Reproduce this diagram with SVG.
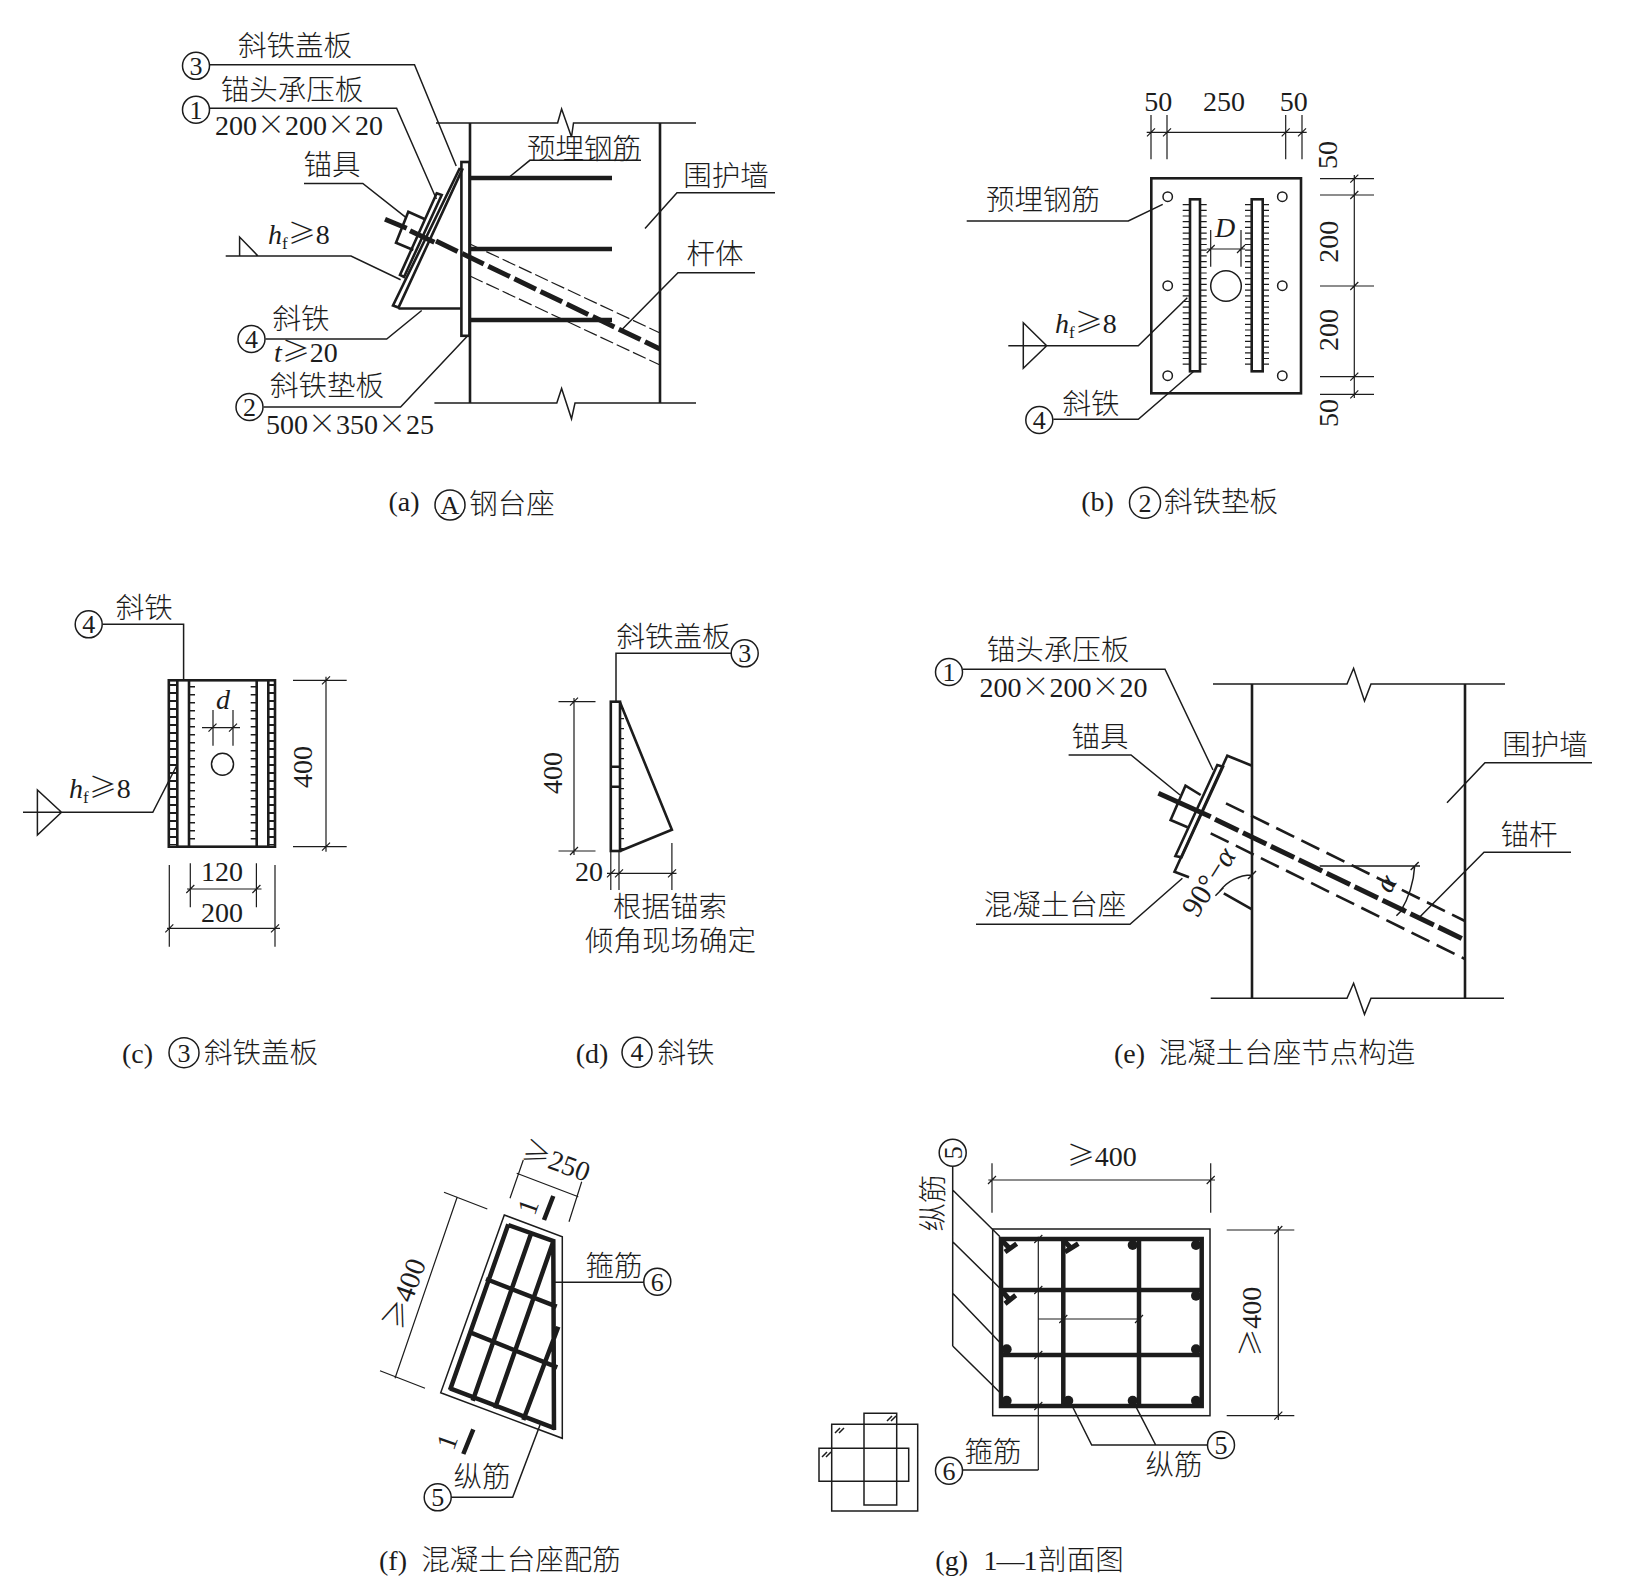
<svg xmlns="http://www.w3.org/2000/svg" width="1625" height="1595" viewBox="0 0 1625 1595">
<style>
text{fill:#1c1c1c}
.n{font-family:"Liberation Serif","Noto Sans CJK SC",serif;font-size:28px}
.z{font-family:"Noto Sans CJK SC","Liberation Sans",sans-serif;font-size:28.5px;font-weight:300;text-anchor:middle}
.i{font-style:italic}
.x{font-family:"Noto Sans CJK SC",sans-serif;font-weight:300}
.mid{text-anchor:middle}
.l{fill:none;stroke:#1c1c1c;stroke-width:1.5}
.f{fill:none;stroke:#1c1c1c;stroke-width:1.2}
.m{fill:none;stroke:#1c1c1c;stroke-width:2.6}
.w{fill:#fff;stroke:#1c1c1c;stroke-width:2.6}
.h{fill:none;stroke:#1c1c1c;stroke-width:4.5}
.b{fill:none;stroke:#1c1c1c;stroke-width:5}
.c{fill:#fff;stroke:#1c1c1c;stroke-width:1.5}
.d{fill:#1c1c1c}
.q{font-family:"Liberation Serif",serif;font-size:26px;text-anchor:middle}
</style>
<rect width="1625" height="1595" fill="#fff"/>

<g id="panel-a">
<path class="l" d="M436 123H557.6L561.6 109L571.5 137L573.5 123H696M434.4 403H556.8L561.6 388.4L571.5 418.8L575 403H696"/>
<path class="m" d="M470 123V403M660 123V403"/>
<rect class="w" x="461.4" y="162" width="8" height="173.8"/>
<path class="h" d="M470 178H612M470 249H612M470 320H612"/>
<path class="w" d="M459.4 169L462.2 169.6L398.5 307.5L393 305.5Z"/>
<path class="m" d="M398.5 308.5H460.6"/>
<path class="m" d="M436.7 193.3L441.7 195L404 277L400 275Z"/>
<path class="m" d="M425 219.3L408.3 211.7L396 242.7L413.3 250"/>
<path class="b" d="M385 219.3L406.7 228.3M410 230.7L434.4 242.3"/>
<path class="b" stroke-dasharray="24 5" d="M436 241L660 349"/>
<path class="f" stroke-dasharray="14 4" d="M470 244L660 333M470 276L660 365"/>
<path class="l" d="M210 64.7H414.5L456.2 166M210 108.3H396.6L436.4 199M304 183.5H362.8L405.8 217.4M225.7 256H351L400.6 279.7M239.6 256V237L258 256M265.5 339H386.7L421.7 310.5M263.5 407H400.6L467 336.5M510 176.5L529.8 160.3H641M645 228.5L677 192.8H775M622 329.5L678 272.8H755"/>
<circle class="c" cx="196" cy="65.8" r="13.5"/><text class="q" x="196" y="74.5">3</text>
<circle class="c" cx="196" cy="109.7" r="13.5"/><text class="q" x="196" y="118.5">1</text>
<circle class="c" cx="251.5" cy="339" r="13.5"/><text class="q" x="251.5" y="347.5">4</text>
<circle class="c" cx="249.5" cy="407" r="13.5"/><text class="q" x="249.5" y="415.5">2</text>
<text class="z" x="295" y="56">斜铁盖板</text>
<text class="z" x="292" y="100">锚头承压板</text>
<text class="n mid" x="299" y="135">200<tspan class="x">×</tspan>200<tspan class="x">×</tspan>20</text>
<text class="z" x="332" y="175">锚具</text>
<text class="n" x="268" y="244"><tspan class="i">h</tspan><tspan font-size="17" dy="5">f</tspan><tspan class="x" dy="-5">≥</tspan>8</text>
<text class="z" x="301" y="329">斜铁</text>
<text class="n" x="274" y="362"><tspan class="i">t</tspan><tspan class="x">≥</tspan>20</text>
<text class="z" x="327" y="396">斜铁垫板</text>
<text class="n mid" x="350" y="434">500<tspan class="x">×</tspan>350<tspan class="x">×</tspan>25</text>
<text class="z" x="584" y="159">预埋钢筋</text>
<text class="z" x="726" y="186">围护墙</text>
<text class="z" x="715" y="264">杆体</text>
<text class="n mid" x="404" y="511">(a)</text>
<circle class="c" cx="450" cy="505" r="15"/><text class="q" x="450" y="514">A</text>
<text class="z" x="512" y="514">钢台座</text>
</g>

<g id="panel-b">
<rect class="m" x="1151.3" y="178.3" width="149.7" height="215"/>
<g class="l">
<circle cx="1167.7" cy="196.7" r="4.7"/><circle cx="1282.3" cy="196.7" r="4.7"/><circle cx="1167.7" cy="285.7" r="4.7"/><circle cx="1282.3" cy="285.7" r="4.7"/><circle cx="1167.7" cy="375.7" r="4.7"/><circle cx="1282.3" cy="375.7" r="4.7"/>
<circle cx="1226" cy="286" r="15.3"/>
</g>
<path fill="none" stroke="#1c1c1c" stroke-width="24" stroke-dasharray="1.2 4.5" d="M1194.7 204V367M1257 204V367"/>
<rect class="w" x="1190" y="199.3" width="10" height="172"/>
<rect class="w" x="1251.7" y="199.3" width="11" height="172"/>
<path class="f" d="M1151 115V159.3M1167 115V159.3M1285.7 115V159.3M1302 115V159.3M1146.7 132.3H1306.7M1147 136.3l8 -8M1163 136.3l8 -8M1281.7 136.3l8 -8M1298 136.3l8 -8"/>
<path class="f" d="M1320 178.7H1374M1320 195H1374M1320 286H1374M1320 376.7H1374M1320 394.3H1374M1354.3 175V398M1350.3 182.7l8 -8M1350.3 199l8 -8M1350.3 290l8 -8M1350.3 380.7l8 -8M1350.3 398.3l8 -8"/>
<path class="f" d="M1210.7 230V266.7M1241 230V266.7M1206.7 249H1245M1206.7 253l8 -8M1237 253l8 -8"/>
<path class="l" d="M966.7 221H1128.3L1162.7 204.3M1008.3 345.7H1138.3L1187.3 297.7M1023.3 322.7V368.3L1046.7 345.7ZM1053.3 419.3H1138.3L1193.3 371.7"/>
<circle class="c" cx="1039.3" cy="420" r="13.5"/><text class="q" x="1039.3" y="428.5">4</text>
<text class="n mid" x="1158.3" y="111">50</text>
<text class="n mid" x="1224" y="111">250</text>
<text class="n mid" x="1293.7" y="111">50</text>
<text class="n mid" transform="translate(1337 155) rotate(-90)">50</text>
<text class="n mid" transform="translate(1338 241.7) rotate(-90)">200</text>
<text class="n mid" transform="translate(1338 330) rotate(-90)">200</text>
<text class="n mid" transform="translate(1338 413) rotate(-90)">50</text>
<text class="z" x="1043" y="210">预埋钢筋</text>
<text class="n" x="1055" y="332.7"><tspan class="i">h</tspan><tspan font-size="17" dy="5">f</tspan><tspan class="x" dy="-5">≥</tspan>8</text>
<text class="z" x="1091" y="414">斜铁</text>
<text class="n mid i" x="1225" y="237">D</text>
<text class="n mid" x="1097.5" y="511">(b)</text>
<circle class="c" cx="1145" cy="502.7" r="15.5"/><text class="q" x="1145" y="511.5">2</text>
<text class="z" x="1221" y="512">斜铁垫板</text>
</g>

<g id="panel-c">
<rect class="m" x="168.8" y="680.3" width="106.2" height="166.4"/>
<path class="m" d="M177.3 680.3V846.7M189 680.3V846.7M256.7 680.3V846.7M268.3 680.3V846.7"/>
<path fill="none" stroke="#1c1c1c" stroke-width="8" stroke-dasharray="2 6" d="M173 684V845M271.7 684V845"/>
<path fill="none" stroke="#1c1c1c" stroke-width="6" stroke-dasharray="1.6 6.4" d="M192 686V846M253.7 686V846"/>
<circle class="l" cx="222.5" cy="764.3" r="11"/>
<path class="f" d="M213 710V745.7M233 710V745.7M202 727.7H240M208.5 731.7l8 -8M229 731.7l8 -8"/>
<path class="f" d="M293 680.3H346.7M293 846.7H346.7M326 676.7V851.7M322 684.3l8 -8M322 850.7l8 -8"/>
<path class="f" d="M190.3 863.3V907.3M256.4 863.3V907.3M187 889H261.5M186.3 893l8 -8M252.4 893l8 -8M169.3 865V946.7M275 865V946.7M167 928.3H280M165.3 932.3l8 -8M271 932.3l8 -8"/>
<path class="l" d="M102.6 624.3H183.6V680M23 812.3H152.8L177 765M37.4 790V835L61.5 812.3Z"/>
<circle class="c" cx="88.7" cy="624.3" r="13.5"/><text class="q" x="88.7" y="633">4</text>
<text class="z" x="144.3" y="618">斜铁</text>
<text class="n" x="69" y="798"><tspan class="i">h</tspan><tspan font-size="17" dy="5">f</tspan><tspan class="x" dy="-5">≥</tspan>8</text>
<text class="n mid i" x="223" y="709">d</text>
<text class="n mid" transform="translate(312 767) rotate(-90)">400</text>
<text class="n mid" x="222" y="881">120</text>
<text class="n mid" x="222" y="921.7">200</text>
<text class="n mid" x="137.5" y="1063">(c)</text>
<circle class="c" cx="184" cy="1052.7" r="15"/><text class="q" x="184" y="1061.5">3</text>
<text class="z" x="261" y="1063">斜铁盖板</text>
</g>

<g id="panel-d" transform="translate(-3 0)">
<rect class="m" x="613.8" y="701.7" width="9.2" height="149.3"/>
<path class="m" d="M623 702.3L674.9 829.7L623 851M613.8 766.7H623M613.8 786.7H623"/>
<path fill="none" stroke="#1c1c1c" stroke-width="4" stroke-dasharray="1.2 8.8" d="M625 708V851"/>
<path class="f" d="M561.5 701.7H598.5M561.5 851H598.5M577 698V855M573 705.7l8 -8M573 855l8 -8"/>
<path class="f" d="M613.8 851.7V890M622 851.7V890M674.9 843V890M610 873.3H679.5M610 877.3l8 -8M618 877.3l8 -8M671 877.3l8 -8"/>
<path class="l" d="M734.4 653.3H619V701.7"/>
<circle class="c" cx="747.7" cy="653.3" r="13.5"/><text class="q" x="747.7" y="662">3</text>
<text class="z" x="676.5" y="647">斜铁盖板</text>
<text class="n mid" transform="translate(564.5 773) rotate(-90)">400</text>
<text class="n mid" x="592" y="880.7">20</text>
<text class="z" x="673" y="917">根据锚索</text>
<text class="z" x="673.6" y="951">倾角现场确定</text>
<text class="n mid" x="595" y="1063">(d)</text>
<circle class="c" cx="640" cy="1052.3" r="15"/><text class="q" x="640" y="1061">4</text>
<text class="z" x="689" y="1063">斜铁</text>
</g>

<g id="panel-e" transform="translate(-3 0)">
<path class="l" d="M1216 684H1350L1356.6 668.3L1367.5 701L1374 684H1508M1213.7 998.3H1350L1356.6 983.3L1367.5 1014.3L1374 998.3H1507"/>
<path class="m" d="M1255 684V998.3M1468 684V998.3"/>
<path class="m" d="M1255 765.7L1230.3 755.7L1177.5 871.7L1192 877.3M1226.8 893.3L1255 909.3"/>
<path class="m" d="M1220.3 765L1226 766.7L1184.5 857.3L1178.4 856Z"/>
<path class="m" d="M1203.7 795L1188.5 785.7L1173.6 820L1190.6 827.3"/>
<path class="b" d="M1161.4 793.3L1213.7 816.7"/>
<path class="b" stroke-dasharray="26 5" d="M1218 819.3L1468 940"/>
<path class="m" stroke-dasharray="20 8" d="M1229 803.3L1468 921M1213.7 833.3L1468 959"/>
<path class="l" d="M1322.7 866H1423M1417.7 866A100 100 0 0 1 1403.4 911.7M1255 875A40 40 0 0 0 1222.4 891.7M1251 879l8 -8M1218.4 895.7l8 -8M1413.7 870l8 -8M1399.4 915.7l8 -8"/>
<path class="l" d="M966 669.3H1168L1216 770M1071.6 755H1134L1183 795M979 924.3H1133L1185.4 878.3M1450 802.7L1488 762.7H1595M1423 916.7L1487 852.3H1574"/>
<circle class="c" cx="952" cy="672" r="13.5"/><text class="q" x="952" y="680.5">1</text>
<text class="z" x="1061" y="660">锚头承压板</text>
<text class="n mid" x="1066.4" y="697">200<tspan class="x">×</tspan>200<tspan class="x">×</tspan>20</text>
<text class="z" x="1103" y="747">锚具</text>
<text class="z" x="1058" y="915">混凝土台座</text>
<text class="z" x="1548" y="755">围护墙</text>
<text class="z" x="1532" y="845">锚杆</text>
<text class="n mid i" transform="translate(1397 888) rotate(-60)">α</text>
<text class="n mid" style="font-size:30px" transform="translate(1220 887) rotate(-58)">90°−<tspan class="i">α</tspan></text>
<text class="n mid" x="1132.5" y="1063">(e)</text>
<text class="z" x="1290" y="1063">混凝土台座节点构造</text>
</g>

<g id="panel-f">
<path class="l" d="M504.3 1215L562.3 1236.7V1438.3L440.7 1392.7Z"/>
<path class="h" d="M508.3 1224.3L450 1390M450 1388.3L555 1428.3M508.3 1225L555 1241.7M553.3 1240L554 1430M531.7 1231.7L472.7 1400.7M552.7 1243.3L495 1408.3M558.3 1326.7L523.3 1420M486 1279L556.7 1306.7M468.3 1331.7L557.3 1367.3M553.3 1196L544 1220M473.3 1429.3L463.3 1454"/>
<path class="f" d="M516.7 1173.3L578.3 1196.7M523.3 1160L510 1198.3M581.7 1181.7L569 1221.7M457.3 1196.7L395 1378.3M444 1192.3L487.3 1209M380 1370.7L425 1388.3"/>
<path class="l" d="M555 1282.3H644M451 1497.3H512.7L540 1425"/>
<circle class="c" cx="657.3" cy="1281.7" r="13.5"/><text class="q" x="657.3" y="1290.5">6</text>
<circle class="c" cx="437.7" cy="1497.3" r="13.5"/><text class="q" x="437.7" y="1506">5</text>
<text class="n mid" transform="translate(537 1210) rotate(-70)">1</text>
<text class="n mid" transform="translate(456 1445) rotate(-70)">1</text>
<text class="n mid" transform="translate(553 1170) rotate(20)"><tspan class="x">≥</tspan>250</text>
<text class="n mid" style="font-size:29px" transform="translate(414 1297) rotate(-70)"><tspan class="x">≥</tspan>400</text>
<text class="z" x="614" y="1276">箍筋</text>
<text class="z" x="482" y="1487">纵筋</text>
<text class="n mid" x="393" y="1570">(f)</text>
<text class="z" x="521" y="1570">混凝土台座配筋</text>
</g>

<g id="panel-g">
<rect class="l" x="992.7" y="1229" width="217.3" height="186.7"/>
<rect class="h" x="1001" y="1239" width="200.7" height="167"/>
<path class="h" d="M1063.3 1239V1406M1139 1239V1406M1001 1290H1201.7M1001 1355H1201.7"/>
<g class="d">
<circle cx="1132.7" cy="1245" r="5"/><circle cx="1196" cy="1245" r="5"/>
<circle cx="1196" cy="1295.7" r="5"/>
<circle cx="1006.7" cy="1349.3" r="5"/><circle cx="1196" cy="1349.3" r="5"/>
<circle cx="1006.7" cy="1400.7" r="5"/><circle cx="1068.3" cy="1400.7" r="5"/><circle cx="1132.7" cy="1400.7" r="5"/><circle cx="1196" cy="1400.7" r="5"/>
</g>
<path class="b" d="M1005 1252L1016.7 1243.7M1001.7 1240.3L1010 1248.7M1065 1252L1078.3 1243.7M1063.3 1240L1071.7 1248.7M1005 1303.7L1015.7 1295.3M1001.7 1290.3L1010 1300.3"/>
<path class="f" d="M1038.3 1236.7V1470M1038.3 1319H1140M1034.3 1243l8 -8M1034.3 1294l8 -8M1034.3 1359l8 -8M1034.3 1410l8 -8M1059.3 1323l8 -8M1135 1323l8 -8"/>
<path class="l" d="M962.7 1470H1038.3M1071.7 1405L1091.7 1445H1208.3M1133.3 1401.7L1155.7 1445M952.7 1166.7V1346M952.7 1190L1000 1236.7M952.7 1241.7L1000 1288.3M952.7 1293.3L1000.7 1343.3M952.7 1346L1000.7 1393.3"/>
<path class="f" d="M992 1163.3V1212.7M1210.7 1163.3V1212.7M988.3 1180H1215M988 1184l8 -8M1206.7 1184l8 -8M1226.7 1230H1294.3M1226.7 1415.7H1294.3M1278.3 1226V1420M1274.3 1234l8 -8M1274.3 1419.7l8 -8"/>
<path class="l" d="M831.7 1424.3H917.7V1511H831.7ZM864 1413.3H896.7V1505H864ZM819 1448.3H908.7V1481.3H819ZM835 1433l5 -5M839 1433l5 -5M822 1457l5 -5M826 1457l5 -5M891 1421l5 -5M887 1421l5 -5"/>
<circle class="c" cx="949" cy="1470.7" r="13.5"/><text class="q" x="949" y="1479.5">6</text>
<circle class="c" cx="1221" cy="1445" r="13.5"/><text class="q" x="1221" y="1453.5">5</text>
<circle class="c" cx="952.7" cy="1152.7" r="13.5"/><text class="q" transform="translate(961.5 1152.7) rotate(-90)">5</text>
<text class="z" x="993" y="1462">箍筋</text>
<text class="z" x="1174" y="1475">纵筋</text>
<text class="z" transform="translate(943 1203) rotate(-90)">纵筋</text>
<text class="n mid" x="1101.7" y="1165.7"><tspan class="x">≥</tspan>400</text>
<text class="n mid" transform="translate(1260.7 1321.7) rotate(-90)"><tspan class="x">≥</tspan>400</text>
<text class="n mid" x="951.7" y="1570">(g)</text>
<text class="n" x="983.5" y="1570" style="letter-spacing:-1px">1—1</text>
<text class="z" x="1081" y="1570">剖面图</text>
</g>
</svg>
